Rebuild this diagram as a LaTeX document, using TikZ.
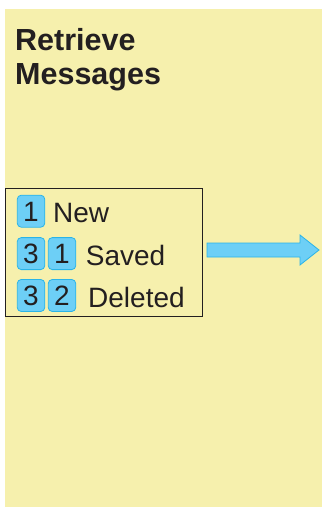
\documentclass[tikz,border=0pt]{standalone}
\usepackage{fontspec}
\setmainfont{Liberation Sans}
\definecolor{bgyellow}{HTML}{F6F0AD}
\definecolor{badgeblue}{HTML}{6DCFF6}
\definecolor{badgeline}{HTML}{2AB4E8}
\definecolor{ink}{HTML}{231F20}
\tikzset{
  badge/.style={draw=badgeline, fill=badgeblue, line width=0.8pt, rounded corners=4pt,
    minimum width=27.5pt, minimum height=32pt, inner sep=0pt, text height=20pt, text depth=0pt,
    font=\fontsize{28}{32}\selectfont, text=ink},
  itemtext/.style={anchor=base west, inner sep=0pt, font=\fontsize{28}{32}\selectfont, text=ink},
  bigarrow/.style={draw=badgeline, fill=badgeblue, line width=0.8pt}
}
\begin{document}
\begin{tikzpicture}[x=1pt,y=-1pt]
\useasboundingbox (0,0) rectangle (322,507);
\fill[bgyellow] (5,9) rectangle (322,507);
\node[anchor=north west, inner sep=0pt, align=left, text=ink,
  font=\fontsize{30.5}{34}\selectfont\bfseries] (title) at (15,28.5) {Retrieve\\Messages};
\draw[ink, line width=1pt] (5,188) rectangle (202,316);
\coordinate (boxeast) at (202,250);
% row 1
\node[badge] (b11) at (31,211.2) {1};
\node[itemtext] (tnew) at (53,222.7) {New};
% row 2
\node[badge] (b21) at (31,253.6) {3};
\node[badge] (b22) at (62,253.6) {1};
\node[itemtext] (tsaved) at (85.7,265) {Saved};
% row 3
\node[badge] (b31) at (31,295.5) {3};
\node[badge] (b32) at (62,295.5) {2};
\node[itemtext] (tdel) at (88,307) {Deleted};
% arrow
\coordinate (as) at (207,250);
\draw[bigarrow] (as) ++(0,-7) -- ++(93,0) -- ++(0,-8) -- ++(19,15) -- ++(-19,15) -- ++(0,-8) -- ++(-93,0) -- cycle;
\end{tikzpicture}
\end{document}
